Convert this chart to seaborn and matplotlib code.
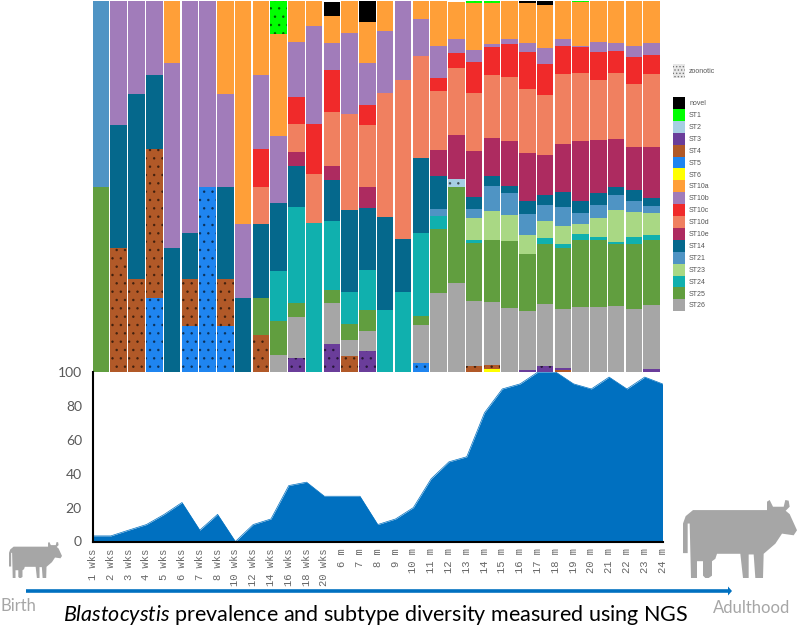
import matplotlib
matplotlib.use("Agg")
import matplotlib.pyplot as plt
from matplotlib.colors import to_rgba
from matplotlib.patches import FancyArrow, Patch, Polygon
import pandas as pd
import seaborn as sns

# stacked composition, % of each sample group
bar_ids = list(range(32))
novel = [0, 0, 0, 0, 0, 0, 0, 0, 0, 0, 0, 0, 0, 3.8, 0, 5.6, 0, 0, 0, 0, 0, 0, 0, 0, 0.5, 1.1, 0, 0, 0, 0, 0, 0]
st1 = [0, 0, 0, 0, 0, 0, 0, 0, 0, 0, 9, 0, 0, 0, 0, 0, 0, 0, 0, 0, 0, 0.6, 0.6, 0, 0, 0, 0, 0.5, 0, 0, 0, 0]
st2 = [0, 0, 0, 0, 0, 0, 0, 0, 0, 0, 0, 0, 0, 0, 0, 0, 0, 0, 0, 0, 2, 0, 0, 0, 0, 0, 0, 0, 0, 0, 0, 0]
st3 = [0, 0, 0, 0, 0, 0, 0, 0, 0, 0, 0, 3.8, 0, 7.5, 0, 5.6, 0, 0, 0, 0, 0, 0, 0, 0, 0.5, 1.6, 0.5, 0, 0, 0, 0, 0.8]
st4 = [0, 33.3, 25, 40, 0, 12.5, 0, 12.5, 0, 10, 0, 0, 0, 0, 4.3, 0, 0, 0, 0, 0, 0, 1.6, 1.1, 0, 0, 0, 0.5, 0, 0, 0, 0, 0]
st5 = [0, 0, 0, 20, 0, 12.5, 50, 12.5, 0, 0, 0, 0, 0, 0, 0, 0, 0, 0, 2.4, 0, 0, 0, 0, 0, 0, 0, 0, 0, 0, 0, 0, 0]
st6 = [0, 0, 0, 0, 0, 0, 0, 0, 0, 0, 0, 0, 0, 0, 0, 0, 0, 0, 0, 0, 0, 0, 0.8, 0, 0, 0, 0, 0, 0, 0, 0, 0]
st10a = [0, 0, 0, 0, 16.7, 0, 0, 25, 60, 20, 27.5, 11, 6.7, 7.3, 8.6, 11, 8.3, 0, 5, 12.1, 10, 12.7, 11, 10.2, 10.8, 11.6, 10.2, 11.6, 11, 11.6, 12.1, 11.3]
st10b = [0, 33.3, 25, 20, 50, 62.5, 50, 25, 20, 20, 18, 14.8, 26.4, 7.3, 21.8, 11.3, 16.7, 21.3, 10, 8.6, 3.8, 3.2, 0.8, 1.3, 2.4, 4.3, 1.9, 0.4, 2.7, 2.2, 3, 3.2]
st10c = [0, 0, 0, 0, 0, 0, 0, 0, 0, 10, 0, 7.3, 13.5, 11.3, 0, 5.4, 0, 0, 0, 3.5, 4, 8.4, 7.6, 8.9, 10, 8.4, 7.5, 7, 7.5, 5.9, 7.3, 5.1]
st10d = [0, 0, 0, 0, 0, 0, 0, 0, 0, 10, 0, 7.5, 13.2, 14.6, 25.9, 16.7, 33.4, 42.9, 27.5, 15.9, 18, 15.6, 17, 17.3, 17.3, 16.2, 18.9, 18.3, 16.2, 17.8, 17, 19.7]
st10e = [0, 0, 0, 0, 0, 0, 0, 0, 0, 0, 0, 3.8, 0, 3.8, 0, 5.6, 0, 0, 0, 7, 11.9, 12.4, 10.2, 12.1, 12.9, 10.8, 12.9, 16.2, 14.3, 12.9, 11.6, 13.7]
st14 = [0, 33.3, 50, 20, 33.3, 12.5, 0, 25, 20, 20, 18.3, 11, 0, 11.1, 22.1, 16.7, 25, 14.3, 20.2, 8.9, 0, 3.2, 2.7, 1.9, 3.5, 2.7, 4, 3.2, 3.2, 2.2, 3, 2.2]
st21 = [50, 0, 0, 0, 0, 0, 0, 0, 0, 0, 0, 0, 0, 0, 0, 0, 0, 0, 0, 1.9, 0, 2.4, 6.7, 5.9, 5.7, 4.3, 5.1, 3, 3.5, 4, 3, 1.9]
st23 = [0, 0, 0, 0, 0, 0, 0, 0, 0, 0, 0, 0, 0, 0, 0, 0, 0, 0, 0, 0, 0, 6, 7.8, 7, 5.1, 4.6, 4.9, 2.7, 5.1, 8.6, 6.7, 5.9]
st24 = [0, 0, 0, 0, 0, 0, 0, 0, 0, 0, 13.5, 25.9, 40.2, 18.6, 8.6, 11, 16.7, 21.5, 22.4, 3.5, 0, 0.8, 0, 0, 0, 1.6, 1.1, 1.6, 0.8, 0.5, 1.9, 1.3]
st25 = [50, 0, 0, 0, 0, 0, 0, 0, 0, 10, 9.2, 3.8, 0, 3.5, 4.3, 5.6, 0, 0, 2.4, 17.3, 26, 15.6, 16.7, 18, 15.4, 16.2, 16.4, 18.1, 18, 16.7, 17.5, 17.5]
st26 = [0, 0, 0, 0, 0, 0, 0, 0, 0, 0, 4.6, 11, 0, 11, 4.3, 5.4, 0, 0, 10.2, 21.3, 24, 17.5, 17, 17.3, 15.9, 16.7, 16, 17.5, 17.6, 17.8, 17, 17.3]

# prevalence per age group, %
age_labels = ["1 wks", "2 wks", "3 wks", "4 wks", "5 wks", "6 wks", "7 wks", "8 wks", "10 wks", "12 wks",
              "14 wks", "16 wks", "18 wks", "20 wks", "6 m", "7 m", "8 m", "9 m", "10 m", "11 m", "12 m",
              "13 m", "14 m", "15 m", "16 m", "17 m", "18 m", "19 m", "20 m", "21 m", "22 m", "23 m", "24 m"]
prevalence = [3.3, 3.3, 6.7, 10, 16, 23, 6.7, 16, 0, 10, 13.3, 33, 35, 26.7, 26.7, 26.7, 10, 13.3, 20, 37, 47,
              50, 76, 90, 93, 100, 100, 93, 90, 97, 90, 97, 93]
prevalence_ticks = [0, 20, 40, 60, 80, 100]

legend_order = ["novel", "ST1", "ST2", "ST3", "ST4", "ST5", "ST6", "ST10a", "ST10b", "ST10c", "ST10d", "ST10e",
                "ST14", "ST21", "ST23", "ST24", "ST25", "ST26"]
legend_colors = ["#000000", "#00ff00", "#a6cee3", "#6a3d9a", "#b15928", "#1f85f0", "#ffff00", "#ff9f38", "#a17cba",
                 "#f02a2a", "#f08060", "#ad2b60", "#05688c", "#4f94c4", "#a9d884", "#10b0ae", "#619e3f", "#a6a6a6"]
dotted = ["ST1", "ST2", "ST3", "ST4", "ST5", "ST6"]
# top of the stack first
stack_order = ["novel", "ST1", "ST10a", "ST10b", "ST10c", "ST10d", "ST10e", "ST2", "ST14", "ST21", "ST23", "ST24",
               "ST25", "ST26", "ST3", "ST4", "ST5", "ST6"]

series = {"novel": novel, "ST1": st1, "ST2": st2, "ST3": st3, "ST4": st4, "ST5": st5, "ST6": st6, "ST10a": st10a,
          "ST10b": st10b, "ST10c": st10c, "ST10d": st10d, "ST10e": st10e, "ST14": st14, "ST21": st21, "ST23": st23,
          "ST24": st24, "ST25": st25, "ST26": st26}
long_df = pd.concat(
    [pd.DataFrame({"bar": bar_ids, "subtype": name, "value": vals}) for name, vals in series.items()]
)
palette = dict(zip(legend_order, legend_colors))

sns.set_theme(style="white")
plt.rcParams["hatch.linewidth"] = 0.6
plt.rcParams["mathtext.fontset"] = "custom"
plt.rcParams["mathtext.it"] = "Lato:italic"
plt.rcParams["mathtext.rm"] = "Lato"

W, H = 797, 627
fig = plt.figure(figsize=(W / 100, H / 100), dpi=100)


def px_axes(left, top, right, bottom, **kw):
    return fig.add_axes([left / W, 1 - bottom / H, (right - left) / W, (bottom - top) / H], **kw)


# stacked bars on top
ax_bars = px_axes(92.7, 1, 660, 372)
sns.histplot(
    data=long_df, x="bar", weights="value", hue="subtype", hue_order=stack_order, palette=palette,
    multiple="stack", discrete=True, shrink=0.93, alpha=1, linewidth=0, legend=False, ax=ax_bars,
)
dotted_rgba = [to_rgba(palette[name]) for name in dotted]
for patch in ax_bars.patches:
    if to_rgba(patch.get_facecolor()) in dotted_rgba:
        patch.set_hatch("..")
        patch.set_edgecolor("#00000080")
        patch.set_linewidth(0)
ax_bars.set_xlim(-0.465, 31.465)
ax_bars.set_ylim(0, 100)
ax_bars.set_axis_off()

# prevalence area below
ax_prev = px_axes(93, 372, 662.5, 541.5)
ax_prev.fill_between(range(len(age_labels)), prevalence, color="#0070c0", linewidth=0)
sns.lineplot(x=list(range(len(age_labels))), y=prevalence, color="#0070c0", linewidth=0.5, ax=ax_prev)
ax_prev.set_xlim(0, len(age_labels) - 1)
ax_prev.set_ylim(0, 100)
ax_prev.set_xticks(range(len(age_labels)))
ax_prev.set_xticklabels(age_labels, rotation=90, fontsize=7.6, family="Liberation Mono", color="#666666")
ax_prev.set_yticks(prevalence_ticks)
ax_prev.set_yticklabels(prevalence_ticks, fontsize=10, family="Lato", color="#595959")
ax_prev.tick_params(axis="both", length=0, pad=5)
ax_prev.tick_params(axis="y", pad=8)
for side in ["top", "right"]:
    ax_prev.spines[side].set_visible(False)
for side in ["left", "bottom"]:
    ax_prev.spines[side].set_color("black")
    ax_prev.spines[side].set_linewidth(1.5)
ax_prev.patch.set_alpha(0)

# legends
subtype_handles = [Patch(facecolor=palette[name], linewidth=0, label=name) for name in legend_order]
fig.legend(
    handles=subtype_handles, loc="upper left", bbox_to_anchor=(673 / W, 1 - 97 / H), borderpad=0, borderaxespad=0,
    frameon=False, prop={"family": "Liberation Sans", "size": 5.0}, handlelength=1.72, handleheight=2.26,
    labelspacing=0, handletextpad=0.6, labelcolor="#555555",
)
zoo = Patch(facecolor="#e8e8e8", edgecolor="#777777", hatch=".....", linewidth=0, label="zoonotic")
fig.legend(
    handles=[zoo], loc="upper left", bbox_to_anchor=(673 / W, 1 - 64 / H), borderpad=0, borderaxespad=0,
    frameon=False, prop={"family": "Liberation Sans", "size": 5.0}, handlelength=1.72, handleheight=2.7,
    handletextpad=0.6, labelcolor="#555555",
)

# cows, arrow and captions drawn in pixel space
ax_px = fig.add_axes([0, 0, 1, 1], zorder=5)
ax_px.set_xlim(0, W)
ax_px.set_ylim(H, 0)
ax_px.set_axis_off()
ax_px.patch.set_alpha(0)

cow_shape = [(848, 188), (848, 100), (856, 78), (878, 60), (1100, 60), (1100, 35), (1108, 30), (1118, 50), (1150, 50),
             (1155, 30), (1165, 32), (1168, 50), (1156, 62), (1168, 72), (1190, 120), (1180, 135), (1145, 130),
             (1125, 160), (1090, 190), (1088, 262), (1065, 262), (1060, 192), (1045, 192), (1045, 262), (1028, 262),
             (1020, 190), (950, 190), (945, 205), (935, 212), (935, 255), (925, 262), (915, 262), (908, 255),
             (908, 212), (890, 212), (890, 262), (872, 262), (868, 100), (862, 100), (862, 188)]


def draw_cow(left, top, right, bottom):
    sx = (right - left) / (1190 - 848)
    sy = (bottom - top) / (262 - 30)
    pts = [(left + (x - 848) * sx, top + (y - 30) * sy) for x, y in cow_shape]
    ax_px.add_patch(Polygon(pts, closed=True, facecolor="#a6a6a6", edgecolor="none"))


draw_cow(683, 500, 797, 578)
draw_cow(9, 542, 62, 578)

ax_px.add_patch(FancyArrow(26, 591, 706, 0, width=3.6, head_width=9, head_length=4, length_includes_head=True,
                           facecolor="#0070c0", edgecolor="none"))
ax_px.text(0, 606, "Birth", fontsize=12, family="Lato", color="#a6a6a6", ha="left", va="center")
ax_px.text(713, 608, "Adulthood", fontsize=12, family="Lato", color="#a6a6a6", ha="left", va="center")
ax_px.text(376, 615, r"$\mathit{Blastocystis}$ prevalence and subtype diversity measured using NGS", fontsize=15.5,
           family="Lato", color="black", ha="center", va="center")

fig.savefig("out.png", dpi=100)
